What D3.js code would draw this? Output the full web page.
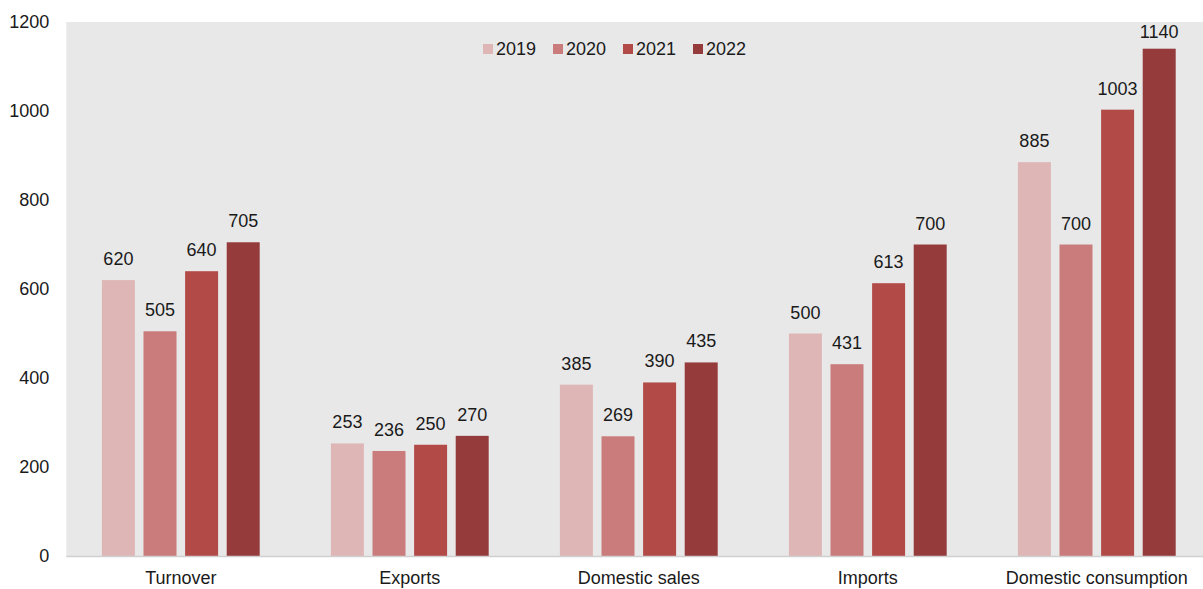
<!DOCTYPE html>
<html>
<head>
<meta charset="utf-8">
<script src="https://cdn.jsdelivr.net/npm/d3@7"></script>
<style>
  html, body { margin: 0; padding: 0; background: #ffffff; overflow: hidden; }
  svg { display: block; font-family: "Liberation Sans", Arial, sans-serif; }
</style>
</head>
<body>
<svg id="chart" width="1203" height="589"></svg>
<script>
// Categories, series and values
const categories = ["Turnover", "Exports", "Domestic sales", "Imports", "Domestic consumption"];
const years = ["2019", "2020", "2021", "2022"];
const values2019 = [620, 253, 385, 500, 885];
const values2020 = [505, 236, 269, 431, 700];
const values2021 = [640, 250, 390, 613, 1003];
const values2022 = [705, 270, 435, 700, 1140];
const yTicks = [0, 200, 400, 600, 800, 1000, 1200];
const colors = ["#dfb6b6", "#c97c7b", "#b24a48", "#953b3b"];

const series = [values2019, values2020, values2021, values2022];

const FONT = "Liberation Sans, Arial, sans-serif";
const FS = 18;
const TXT = "#1a1a1a";

const svg = d3.select("#chart");
const W = 1203;
const plotLeft = 66.3, plotRight = 1211.3, plotTop = 22, plotBottom = 556;
const groupWidth = 166.4;

const x0 = d3.scaleBand().domain(categories).range([plotLeft, plotRight]).padding(0);
const x1 = d3.scaleBand().domain(years).range([0, groupWidth]).paddingInner(0.207).paddingOuter(0.1035);
const y = d3.scaleLinear().domain([0, 1200]).range([plotBottom, plotTop]);

// Plot background
svg.append("rect")
  .attr("x", plotLeft).attr("y", plotTop)
  .attr("width", plotRight - plotLeft)
  .attr("height", plotBottom - plotTop)
  .attr("fill", "#e8e8e8");

// Bars and value labels
const rows = (c, i) => years.map((yr, k) => ({ yr, v: series[k][i], k }));
const groups = svg.append("g").selectAll("g")
  .data(categories)
  .join("g")
  .attr("transform", c => `translate(${x0(c) + (x0.bandwidth() - groupWidth) / 2},0)`);

groups.selectAll("rect")
  .data(rows)
  .join("rect")
  .attr("x", d => x1(d.yr))
  .attr("width", x1.bandwidth())
  .attr("y", d => y(d.v))
  .attr("height", d => y(0) - y(d.v))
  .attr("fill", d => colors[d.k]);

// labels sit 15px above the bar, kept inside the plot area
const minBaseline = plotTop + 16.3;
groups.selectAll("text")
  .data(rows)
  .join("text")
  .attr("x", d => x1(d.yr) + x1.bandwidth() / 2)
  .attr("y", d => Math.max(y(d.v) - 15, minBaseline))
  .attr("text-anchor", "middle")
  .attr("font-family", FONT)
  .attr("font-size", FS)
  .attr("fill", TXT)
  .text(d => d.v);

// Baseline
svg.append("line")
  .attr("x1", plotLeft).attr("x2", W)
  .attr("y1", plotBottom + 0.5).attr("y2", plotBottom + 0.5)
  .attr("stroke", "#d0d0d0").attr("stroke-width", 1.5);

// Y axis
const yAxis = d3.axisLeft(y).tickValues(yTicks).tickSize(0).tickPadding(17).tickFormat(d3.format("d"));
const yg = svg.append("g").attr("transform", `translate(${plotLeft},0)`).call(yAxis);
yg.select(".domain").remove();
yg.attr("font-family", FONT).attr("font-size", FS);
yg.selectAll("text").attr("fill", TXT);

// X axis
const xAxis = d3.axisBottom(x0).tickSize(0).tickPadding(15.5);
const xg = svg.append("g").attr("transform", `translate(0,${plotBottom})`).call(xAxis);
xg.select(".domain").remove();
xg.attr("font-family", FONT).attr("font-size", FS);
xg.selectAll("text").attr("fill", TXT);

// Legend
const legend = svg.append("g").attr("transform", "translate(483,49)");
const item = legend.selectAll("g").data(years).join("g")
  .attr("transform", (d, i) => `translate(${i * 70},0)`);
item.append("rect").attr("x", 0).attr("y", -5).attr("width", 10).attr("height", 10)
  .attr("fill", (d, i) => colors[i]);
item.append("text").attr("x", 13).attr("y", 0).attr("dy", "0.35em")
  .attr("font-family", FONT).attr("font-size", FS).attr("fill", TXT).text(d => d);
</script>
</body>
</html>
